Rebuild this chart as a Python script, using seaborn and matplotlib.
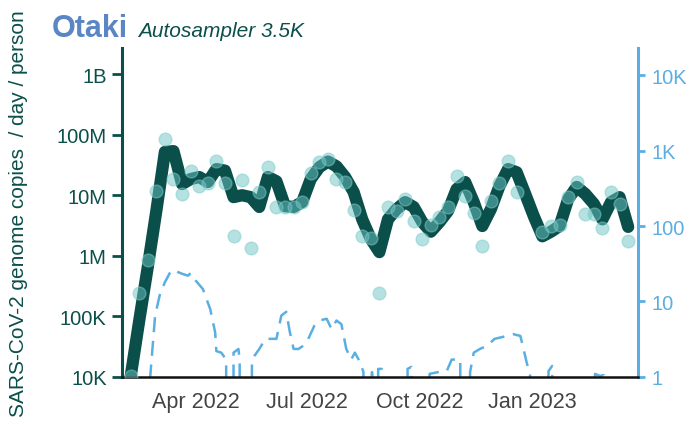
import numpy as np
import pandas as pd
import matplotlib
matplotlib.use("Agg")
import matplotlib.pyplot as plt
import matplotlib.dates as mdates
import seaborn as sns

# ---------------- data ----------------
first_week = "2022-02-07"
n_weeks = 59
# weekly samples (copies / day / person); NaN = no sample
sample_values = [1.05e4, 2.4e5, 8.6e5, 1.19e7, 8.5e7, 1.85e7, 1.05e7, 2.5e7, 1.4e7, 1.6e7,
                 3.7e7, 1.6e7, 2.15e6, 1.8e7, 1.35e6, 1.15e7, 2.95e7, 6.3e6, 6.3e6, 6.3e6,
                 7.8e6, 2.3e7, 3.6e7, 4.0e7, 1.85e7, 1.67e7, 5.8e6, 2.15e6, 2.0e6, 2.4e5,
                 6.3e6, 5.5e6, 8.6e6, 3.8e6, 1.9e6, 3.2e6, 4.3e6, 6.3e6, 2.05e7, 9.8e6,
                 5.1e6, 1.47e6, 8.1e6, 1.6e7, 3.7e7, 1.15e7, np.nan, np.nan, 2.5e6, 3.1e6,
                 3.2e6, 9.2e6, 1.67e7, 4.9e6, 4.9e6, 2.85e6, 1.15e7, 7.2e6, 1.77e6]
# smoothed trend line
trend_values = [1.0e4, 8.4e4, 6.5e5, 5.5e6, 5.2e7, 5.35e7, 1.53e7, 1.85e7, 2.0e7, 1.65e7,
                2.7e7, 2.55e7, 9.3e6, 1.0e7, 9.3e6, 6.4e6, 2.0e7, 1.7e7, 6.6e6, 6.4e6,
                7.7e6, 1.85e7, 2.9e7, 3.6e7, 3.0e7, 2.0e7, 1.13e7, 4.0e6, 1.9e6, 1.15e6,
                4.0e6, 5.9e6, 7.7e6, 6.4e6, 3.6e6, 2.5e6, 3.6e6, 5.5e6, 1.26e7, 1.65e7,
                7.7e6, 3.1e6, 5.9e6, 1.42e7, 2.7e7, 2.4e7, 1.05e7, 4.5e6, 2.1e6, 2.5e6,
                3.1e6, 8.6e6, 1.37e7, 1.05e7, 7.2e6, 4.0e6, 7.7e6, 9.3e6, 3.0e6]
# reported cases (right axis), days since first_week
case_day = [15, 16, 20, 24, 28, 33, 36, 39, 43, 47, 49, 52, 59, 65, 69, 70, 74, 78, 80, 84,
            88, 89, 92, 95, 99, 101, 105, 110, 115, 119, 123, 127, 130, 133, 137, 141, 145,
            150, 154, 160, 164, 168, 172, 176, 180, 183, 187, 190, 192, 197, 199, 202, 205,
            207, 224, 226, 229, 232, 240, 244, 251, 258, 262, 265, 269, 274, 277, 280, 285,
            291, 297, 304, 308, 312, 318, 320, 323, 326, 328, 340, 341, 344, 346, 378, 379,
            383, 386, 391, 404]
case_values = [0, 1.0, 6.5, 12.6, 18, 25.6, 26, 24.4, 23, 22, 23.8, 19.9, 14.6, 7.9, 3.9, 2.2,
               2.1, 1.7, 0, 2.1, 2.35, 1.7, 0, 0, 1.6, 1.9, 2.35, 3.2, 3.2, 3.2, 6.5, 7.3, 3.9,
               2.35, 2.35, 2.6, 3.2, 4.8, 5.6, 5.9, 4.3, 5.6, 5.0, 2.35, 1.7, 2.1, 1.6, 1.16, 0,
               1.16, 0, 1.28, 1.28, 0, 0, 1.28, 1.36, 0, 0, 1.1, 1.16, 1.2, 1.7, 1.7, 1.7, 0,
               1.16, 2.1, 2.35, 2.6, 3.2, 3.4, 3.6, 3.7, 3.5, 2.6, 1.6, 1.04, 0, 0, 1.2, 1.4,
               0, 0, 1.1, 1.03, 1.06, 0, 0]

left_ticks = [1e4, 1e5, 1e6, 1e7, 1e8, 1e9]
left_labels = ["10K", "100K", "1M", "10M", "100M", "1B"]
right_ticks = [1, 10, 100, 1000, 10000]
right_labels = ["1", "10", "100", "1K", "10K"]

title = "Otaki"
subtitle = "Autosampler 3.5K"
ylabel = "SARS-CoV-2 genome copies  / day / person"

# ---------------- frames ----------------
weeks = pd.date_range(first_week, periods=n_weeks, freq="7D")
ww = pd.DataFrame({"date": weeks, "sample": sample_values, "trend": trend_values})
cases = pd.DataFrame({"date": pd.Timestamp(first_week) + pd.to_timedelta(case_day, unit="D"),
                      "cases": case_values})

# ---------------- style ----------------
sns.set_style("white")
plt.rcParams["font.family"] = ["Liberation Sans", "DejaVu Sans"]

DARK = "#0b4f4b"
POINT = "#6cc5c5"
BLUE = "#5aafe2"
TITLE = "#5a86c5"

fig = plt.figure(figsize=(6.98, 4.27), dpi=100)
ax = fig.add_axes([0.1748, 0.1148, 0.914 - 0.1748, 0.8852 - 0.1148])
ax2 = ax.twinx()
ax.set_zorder(ax2.get_zorder() + 1)
ax.patch.set_visible(False)

# cases (right)
sns.lineplot(data=cases, x="date", y="cases", ax=ax2, color=BLUE, lw=1.8,
             dashes=False, legend=False)
for ln in ax2.lines:
    ln.set_linestyle((0, (6, 3.5)))
ax2.set_yscale("log")
ax2.set_ylim(1, 10 ** 4.358)

# wastewater (left)
sns.lineplot(data=ww, x="date", y="trend", ax=ax, color=DARK, lw=8.8,
             solid_capstyle="round", solid_joinstyle="round", legend=False)
sns.scatterplot(data=ww, x="date", y="sample", ax=ax, color=POINT, s=85, alpha=0.5,
                edgecolor="#7fcccc", linewidth=1.0, zorder=5, legend=False)
ax.set_yscale("log")
ax.set_ylim(1e4, 10 ** 9.43)

xmin = pd.Timestamp("2022-01-31")
xmax = pd.Timestamp("2023-03-28")
ax.set_xlim(xmin, xmax)
ax2.set_xlim(xmin, xmax)

ax.xaxis.set_major_locator(mdates.MonthLocator(bymonth=[1, 4, 7, 10]))
ax.xaxis.set_major_formatter(mdates.DateFormatter("%b %Y"))
ax.yaxis.set_major_locator(matplotlib.ticker.FixedLocator(left_ticks))
ax.yaxis.set_major_formatter(matplotlib.ticker.FixedFormatter(left_labels))
ax.yaxis.set_minor_locator(matplotlib.ticker.NullLocator())
ax2.yaxis.set_major_locator(matplotlib.ticker.FixedLocator(right_ticks))
ax2.yaxis.set_major_formatter(matplotlib.ticker.FixedFormatter(right_labels))
ax2.yaxis.set_minor_locator(matplotlib.ticker.NullLocator())

ax.set_xlabel("")
ax.set_ylabel("")
ax2.set_ylabel("")

for a in (ax, ax2):
    for s in a.spines.values():
        s.set_visible(False)
ax.spines["left"].set_visible(True)
ax.spines["left"].set_color(DARK)
ax.spines["left"].set_linewidth(2.2)
ax.spines["bottom"].set_visible(True)
ax.spines["bottom"].set_color("#111111")
ax.spines["bottom"].set_linewidth(1.8)
ax2.spines["right"].set_visible(True)
ax2.spines["right"].set_color(BLUE)
ax2.spines["right"].set_linewidth(2.2)

ax.tick_params(axis="y", colors=DARK, labelsize=14.5, length=7, width=2, direction="out",
               labelcolor=DARK, pad=4)
ax.tick_params(axis="x", colors="#111111", labelsize=15.5, length=6, width=1.6,
               direction="out", labelcolor="#444444", pad=4)
ax2.tick_params(axis="y", colors=BLUE, labelsize=14.5, length=5, width=2, direction="out",
                labelcolor=BLUE, pad=5)

fig.text(0.0745, 0.913, title, fontsize=22, fontweight="bold", color=TITLE, va="baseline")
fig.text(0.198, 0.913, subtitle, fontsize=15, style="italic", color=DARK, va="baseline")
fig.text(0.026, 0.499, ylabel, fontsize=15, color=DARK, rotation=90,
         ha="center", va="center")

fig.savefig("out.png", dpi=100)
